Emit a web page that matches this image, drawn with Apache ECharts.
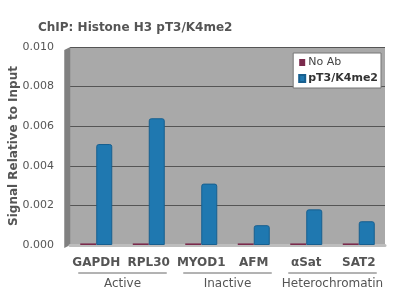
<!DOCTYPE html>
<html><head><meta charset="utf-8">
<script src="https://cdn.jsdelivr.net/npm/echarts@6/dist/echarts.min.js"></script>
<style>html,body{margin:0;padding:0;background:#fff}#c{width:400px;height:300px}</style>
</head><body><div id="c"></div>
<script>
var categories = ["GAPDH","RPL30","MYOD1","AFM","\u03b1Sat","SAT2"];
var groups = ["Active","Inactive","Heterochromatin"];
var noAb = [0.00008,0.00008,0.00008,0.00008,0.00008,0.00008];
var pT3 = [0.0051,0.0064,0.0031,0.0010,0.0018,0.0012];
var seriesNames = ["No Ab","pT3/K4me2"];
var yTicks = {min:0,max:0.010,interval:0.002};

var font = "DejaVu Sans";
var chart = echarts.init(document.getElementById('c'), null, {renderer:'canvas'});
var option = {
  animation:false,
  backgroundColor:'#fff',
  title:{text:"ChIP: Histone H3 pT3/K4me2",left:33,top:17,
    textStyle:{fontFamily:font,fontSize:12,fontWeight:'bold',color:'#555'}},
  legend:{orient:'vertical',right:19,top:53,backgroundColor:'#fff',borderColor:'#777',borderWidth:1,
    padding:[4,3,4,5],itemWidth:6,itemHeight:7,itemGap:5,icon:'rect',
    textStyle:{fontFamily:font,fontSize:11,color:'#444',padding:[0,0,0,-2]},
    data:[{name:seriesNames[0]},{name:seriesNames[1],textStyle:{fontWeight:'bold',color:'#333'}}]},
  grid:{left:70,right:15,top:47,bottom:55,show:true,backgroundColor:'#a9a9a9',borderWidth:0,
    outerBoundsMode:'none',containLabel:false},
  xAxis:[{type:'category',data:categories,
    axisLine:{show:true,lineStyle:{color:'#bdbdbd',width:3}},axisTick:{show:false},
    axisLabel:{interval:0,fontFamily:font,fontSize:12,fontWeight:'bold',color:'#555',margin:12}},
    {type:'category',data:groups,position:'bottom',offset:30,gridIndex:0,
    axisLine:{show:false},axisTick:{show:false},
    axisLabel:{interval:0,fontFamily:font,fontSize:12,color:'#555',margin:3}}],
  yAxis:{type:'value',min:yTicks.min,max:yTicks.max,interval:yTicks.interval,
    name:"Signal Relative to Input",nameLocation:'middle',nameGap:50,nameMoveOverlap:false,
    nameTextStyle:{fontFamily:font,fontSize:12,fontWeight:'bold',color:'#555'},
    axisLine:{show:false},axisTick:{show:false},
    axisLabel:{fontFamily:font,fontSize:11,color:'#555',margin:16,formatter:function(v){return v.toFixed(3);}},
    splitLine:{show:true,lineStyle:{color:'#555',width:1}}},
  series:[
    {name:seriesNames[0],type:'bar',data:noAb,barWidth:16,barGap:'0%',
      itemStyle:{color:'#7a2a4c'}},
    {name:seriesNames[1],type:'bar',data:pT3,barWidth:16,barGap:'0%',
      itemStyle:{color:'#1f78b0',borderColor:'#175f8f',borderWidth:1,borderRadius:[2,2,0,0]}}
  ]
};
chart.setOption(option);

// group underlines derived from the category axis positions
var lines = [];
for (var i=0;i<groups.length;i++){
  var a = chart.convertToPixel({xAxisIndex:0}, categories[2*i]);
  var b = chart.convertToPixel({xAxisIndex:0}, categories[2*i+1]);
  var yb = chart.convertToPixel({yAxisIndex:0}, 0);
  lines.push({type:'line',shape:{x1:a-18,y1:yb+28,x2:b+18,y2:yb+28},style:{stroke:'#666',lineWidth:1}});
}
// left side wall
var y0 = chart.convertToPixel({yAxisIndex:0}, yTicks.min);
var y1 = chart.convertToPixel({yAxisIndex:0}, yTicks.max);
var xl = chart.convertToPixel({xAxisIndex:0}, categories[0]) - 26;
lines.push({type:'polygon',shape:{points:[[xl-6,y1+3],[xl,y1],[xl,y0],[xl-6,y0+3]]},style:{fill:'#808080'}});
chart.setOption({graphic:lines});
</script></body></html>
